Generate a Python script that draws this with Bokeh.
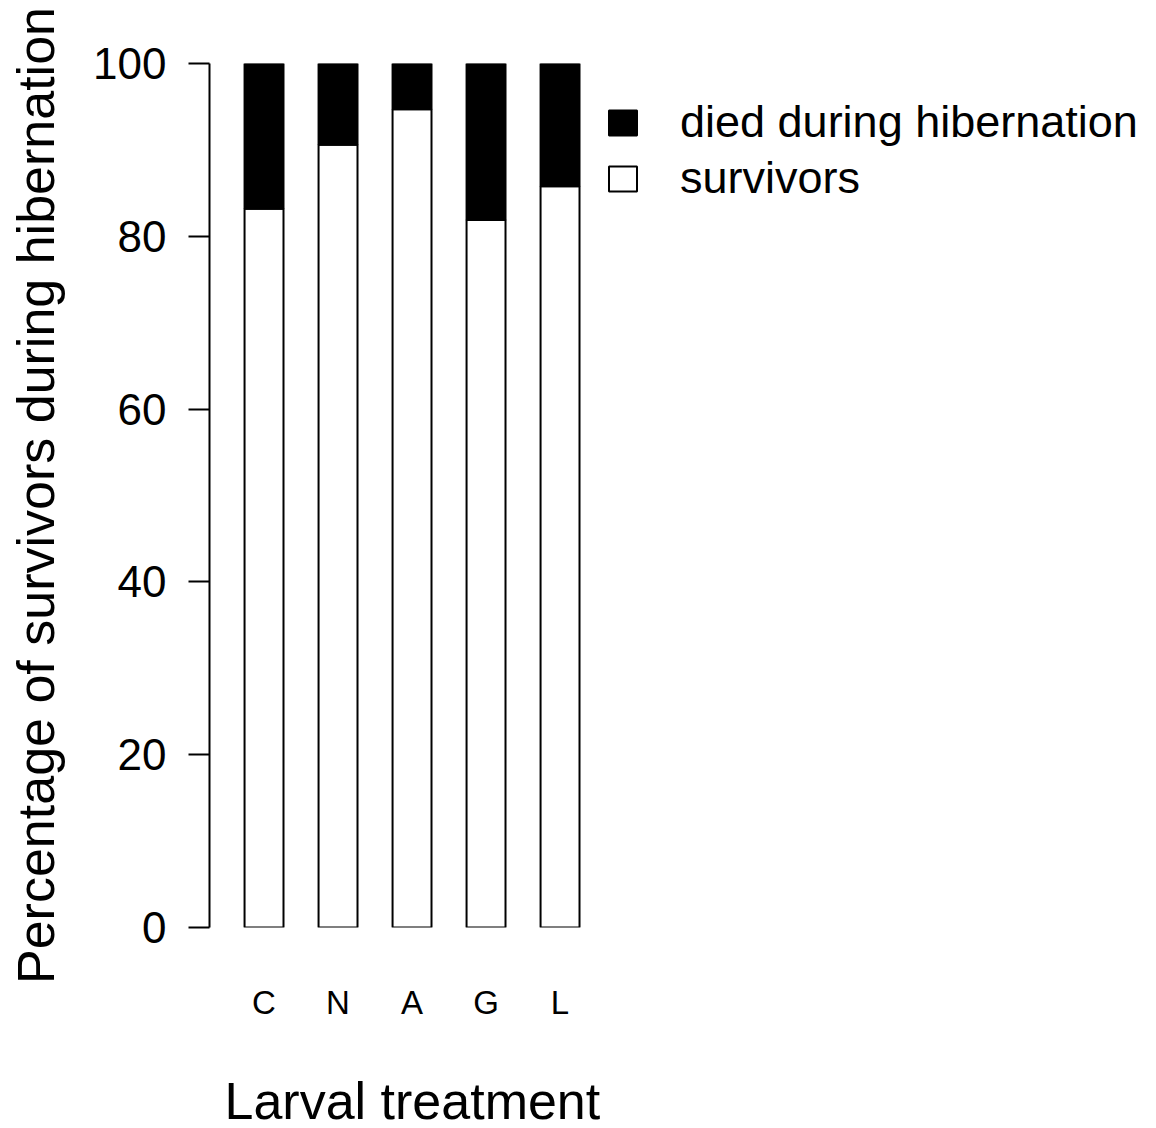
from bokeh.plotting import figure
from bokeh.models import Range1d, FixedTicker, Legend, LegendItem, ColumnDataSource, Title
from bokeh.embed import file_html
from bokeh.resources import INLINE

categories = ["C", "N", "A", "G", "L"]
survivors = [83.2, 90.6, 94.7, 81.9, 85.8]
died = [16.8, 9.4, 5.3, 18.1, 14.2]
y_ticks = [0, 20, 40, 60, 80, 100]

FONT = "Liberation Sans"
space = 0.9
bar_w = 1.0
xs = [space + bar_w / 2 + i * (bar_w + space) for i in range(len(categories))]

src = ColumnDataSource(dict(x=xs, cat=categories, survivors=survivors, died=died))

p = figure(width=1156, height=1128, output_backend="svg", toolbar_location=None,
           x_range=Range1d(0, 24.16), y_range=Range1d(0, 100),
           min_border_left=209, min_border_right=6, min_border_top=63, min_border_bottom=201)
p.outline_line_color = None
p.xgrid.visible = False
p.ygrid.visible = False
p.background_fill_color = "white"
p.border_fill_color = "white"

rs = p.vbar_stack(["survivors", "died"], x="x", width=bar_w, source=src,
                  fill_color=["white", "black"], line_color="black", line_width=2)

# y axis
ya = p.yaxis[0]
ya.ticker = FixedTicker(ticks=y_ticks)
ya.major_label_text_font = FONT
ya.major_label_text_font_size = "44px"
ya.major_label_text_color = "black"
ya.major_tick_out = 21
ya.major_tick_in = 0
ya.minor_tick_out = 0
ya.minor_tick_in = 0
ya.major_tick_line_width = 2
ya.axis_line_width = 2
ya.major_label_standoff = 22
ya.axis_label = "Percentage of survivors during hibernation"
ya.axis_label_text_font = FONT
ya.axis_label_text_font_size = "52px"
ya.axis_label_text_font_style = "normal"
ya.axis_label_text_color = "black"
ya.axis_label_standoff = 25

# x axis (category labels only; blank axis label used as vertical spacer)
xa = p.xaxis[0]
xa.ticker = FixedTicker(ticks=xs)
xa.major_label_overrides = {x: c for x, c in zip(xs, categories)}
xa.major_label_text_font = FONT
xa.major_label_text_font_size = "33px"
xa.major_label_text_color = "black"
xa.axis_line_color = None
xa.major_tick_line_color = None
xa.minor_tick_line_color = None
xa.major_tick_out = 0
xa.major_tick_in = 0
xa.major_label_standoff = 56
xa.axis_label = " "
xa.axis_label_text_font = FONT
xa.axis_label_text_font_size = "40px"
xa.axis_label_standoff = 5

xt = Title(text="Larval treatment", align="left", offset=15, standoff=-12,
           text_font=FONT, text_font_size="52px", text_font_style="normal",
           text_color="black")
p.add_layout(xt, "below")

legend = Legend(items=[LegendItem(label="died during hibernation", renderers=[rs[1]]),
                       LegendItem(label="survivors", renderers=[rs[0]])],
                location=(396, 723))
legend.border_line_color = None
legend.background_fill_alpha = 0
legend.padding = 0
legend.margin = 0
legend.spacing = 4
legend.glyph_width = 35
legend.glyph_height = 31
legend.label_standoff = 40
legend.label_text_font = FONT
legend.label_text_font_size = "45px"
legend.label_text_color = "black"
legend.label_height = 52
p.add_layout(legend)

open("out.html", "w").write(file_html(p, INLINE))
